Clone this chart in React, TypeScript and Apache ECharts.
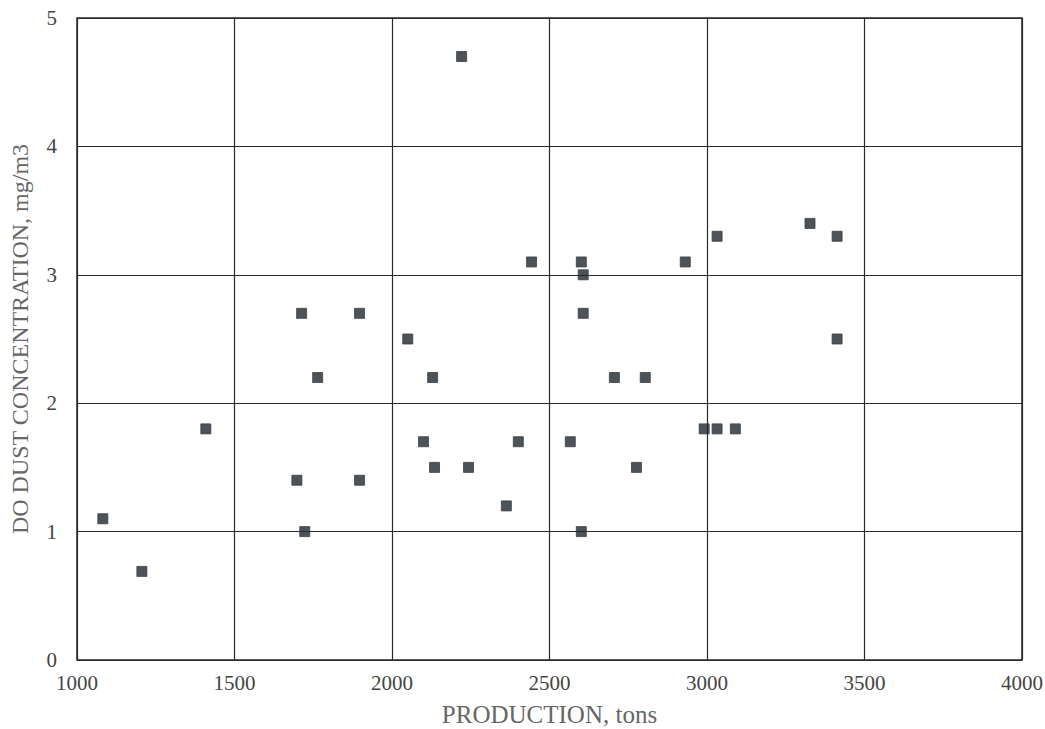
import React, { useEffect, useRef } from "react";
import * as echarts from "echarts";

const production: number[] = [
  1082, 1206, 1409, 1698, 1713, 1723, 1764, 1897, 1897, 2050, 2100, 2129, 2135, 2221, 2243, 2363, 2401,
  2443, 2566, 2601, 2607, 2607, 2601, 2706, 2776, 2804, 2931, 2991, 3032, 3032, 3090, 3327, 3413, 3413,
];
const dust: number[] = [
  1.1, 0.69, 1.8, 1.4, 2.7, 1.0, 2.2, 2.7, 1.4, 2.5, 1.7, 2.2, 1.5, 4.7, 1.5, 1.2, 1.7,
  3.1, 1.7, 3.1, 3.0, 2.7, 1.0, 2.2, 1.5, 2.2, 3.1, 1.8, 3.3, 1.8, 1.8, 3.4, 3.3, 2.5,
];
const xTicks = { min: 1000, max: 4000, interval: 500 };
const yTicks = { min: 0, max: 5, interval: 1 };
const xName = "PRODUCTION, tons";
const yName = "DO DUST CONCENTRATION, mg/m3";

export default function App() {
  const ref = useRef<HTMLDivElement>(null);
  useEffect(() => {
    const chart = echarts.init(ref.current!, null, { renderer: "svg" });
    const font = "Liberation Serif";
    chart.setOption({
      animation: false,
      backgroundColor: "#ffffff",
      grid: {
        left: 77,
        right: 23,
        top: 18,
        bottom: 69,
        containLabel: false,
        outerBoundsMode: "none",
        show: true,
        borderColor: "#2a2a2a",
        borderWidth: 1.5,
      },
      xAxis: {
        type: "value",
        min: xTicks.min,
        max: xTicks.max,
        interval: xTicks.interval,
        name: xName,
        nameLocation: "middle",
        nameGap: 42,
        nameTextStyle: { fontFamily: font, fontSize: 25, color: "#666" },
        axisLine: { show: false },
        axisTick: { show: false },
        axisLabel: { fontFamily: font, fontSize: 21, color: "#444", margin: 12, formatter: (v: number) => String(v) },
        splitLine: { lineStyle: { color: "#2a2a2a", width: 1.2 } },
      },
      yAxis: {
        type: "value",
        min: yTicks.min,
        max: yTicks.max,
        interval: yTicks.interval,
        name: yName,
        nameLocation: "middle",
        nameGap: 45,
        nameTextStyle: { fontFamily: font, fontSize: 24, color: "#666" },
        axisLine: { show: false },
        axisTick: { show: false },
        axisLabel: { fontFamily: font, fontSize: 21, color: "#444", margin: 20, formatter: (v: number) => String(v) },
        splitLine: { lineStyle: { color: "#2a2a2a", width: 1.2 } },
      },
      series: [
        {
          type: "scatter",
          data: production.map((x, i) => [x, dust[i]]),
          symbol: "rect",
          symbolSize: 10,
          itemStyle: { color: "#22282e", borderColor: "#3a4048", borderWidth: 1 },
        },
      ],
    });
    return () => chart.dispose();
  }, []);
  return (
    <div
      ref={ref}
      style={{ position: "absolute", left: 0, top: 0, width: 1045, height: 729, background: "#fff" }}
    />
  );
}
